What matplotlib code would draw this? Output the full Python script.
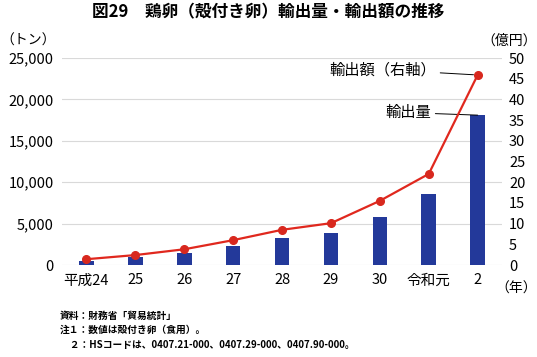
import matplotlib
matplotlib.use("Agg")
import matplotlib.pyplot as plt

plt.rcParams['font.family'] = ['Noto Sans CJK JP', 'DejaVu Sans']

# データ
nendo = ["平成24", "25", "26", "27", "28", "29", "30", "令和元", "2"]
yushutsu_ryo = [520, 930, 1410, 2290, 3220, 3830, 5800, 8580, 18100]   # トン
yushutsu_gaku = [1.4, 2.4, 3.8, 6.0, 8.5, 10.1, 15.5, 22.0, 45.9]      # 億円
left_ticks = [0, 5000, 10000, 15000, 20000, 25000]
right_ticks = [0, 5, 10, 15, 20, 25, 30, 35, 40, 45, 50]

fig = plt.figure(figsize=(5.37, 3.57), dpi=100)
ax = fig.add_axes([0.1155, 0.2577, 0.8195, 0.5798])
ax2 = ax.twinx()

x = range(len(nendo))
ax.bar(x, yushutsu_ryo, width=0.3, color="#23399a", zorder=2)
ax2.plot(x, yushutsu_gaku, color="#e0281e", lw=1.6, marker="o", ms=5.5,
         mfc="#d8281e", mec="#d8281e", zorder=3)

ax.set_xlim(-0.5, 8.5)
ax.set_ylim(0, 25000)
ax2.set_ylim(0, 50)
ax.set_yticks(left_ticks)
ax.set_yticklabels([f"{v:,}" for v in left_ticks], fontsize=10.5)
ax2.set_yticks(right_ticks)
ax2.set_yticklabels([str(v) for v in right_ticks], fontsize=10.5)
ax.set_xticks(list(x))
ax.set_xticklabels(nendo, fontsize=10.5)
ax.grid(axis="y", color="#d9d9d9", lw=0.8, zorder=0)
ax.tick_params(length=0, pad=6)
ax2.tick_params(length=0, pad=5)
for a in (ax, ax2):
    for s in a.spines.values():
        s.set_visible(False)
ax.set_zorder(ax2.get_zorder() - 1)
ax2.patch.set_visible(False)

# タイトル・単位
fig.text(0.5, 0.966, "図29　鶏卵（殻付き卵）輸出量・輸出額の推移",
         ha="center", va="center", fontsize=12, fontweight="bold")
fig.text(0.0, 0.885, "（トン）", ha="left", va="center", fontsize=10)
fig.text(1.0, 0.885, "（億円）", ha="right", va="center", fontsize=10)
fig.text(1.0, 0.19, "（年）", ha="right", va="center", fontsize=10)

# 系列ラベル
ax2.annotate("輸出額（右軸）", xy=(8, yushutsu_gaku[-1]), xytext=(7.15, 47.2),
             ha="right", va="center", fontsize=11,
             arrowprops=dict(arrowstyle="-", color="black", lw=0.7,
                             shrinkA=1, shrinkB=3))
ax.annotate("輸出量", xy=(8, yushutsu_ryo[-1]), xytext=(7.05, 18400),
            ha="right", va="center", fontsize=11,
            arrowprops=dict(arrowstyle="-", color="black", lw=0.7,
                            shrinkA=1, shrinkB=0))

# 注記
notes = ["資料：財務省「貿易統計」",
         "注１：数値は殻付き卵（食用）。",
         "　２：HSコードは、0407.21-000、0407.29-000、0407.90-000。"]
for i, t in enumerate(notes):
    fig.text(0.112, 0.116 - i * 0.041, t, ha="left", va="center",
             fontsize=7, fontweight="bold")

fig.savefig("out.png", dpi=100)
